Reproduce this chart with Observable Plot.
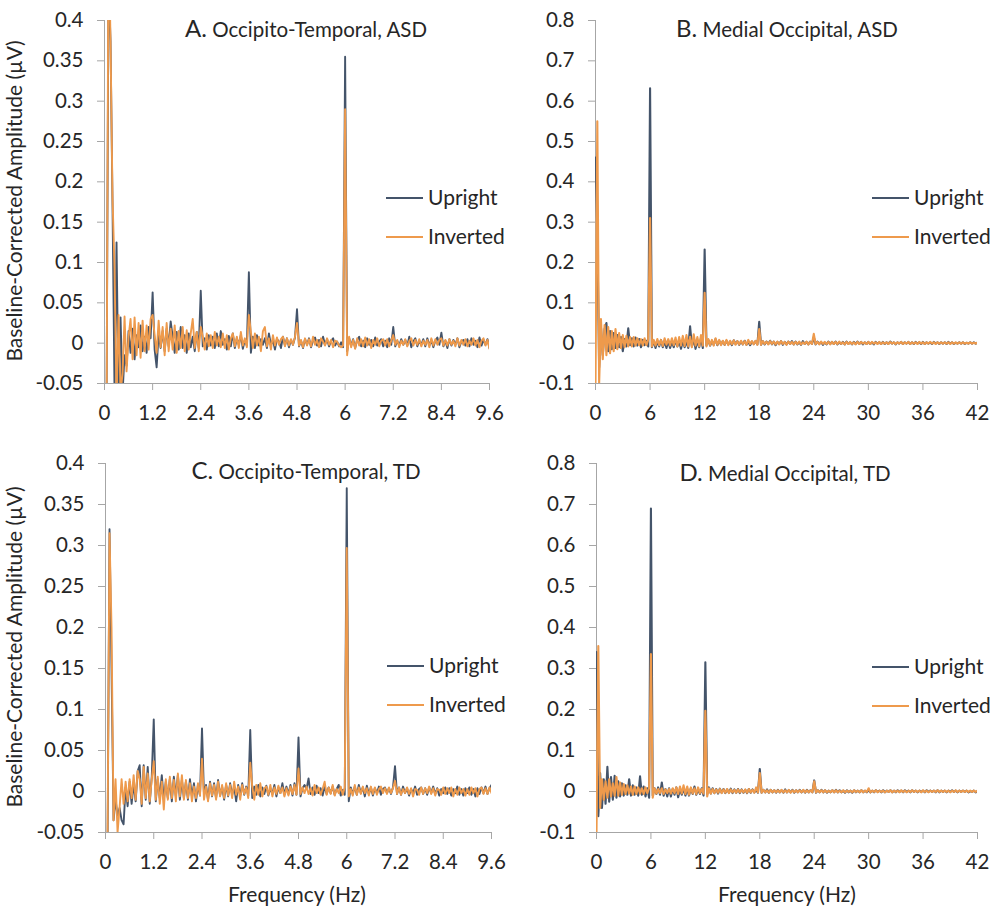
<!DOCTYPE html>
<html>
<head>
<meta charset="utf-8">
<script src="https://cdn.jsdelivr.net/npm/d3@7"></script>
<script src="https://cdn.jsdelivr.net/npm/@observablehq/plot@0.6"></script>
<style>
  body { margin: 0; background: #fff; }
  #wrap { position: relative; width: 992px; height: 907px; overflow: hidden; font-family: Lato, "Open Sans", sans-serif; }
  .pane { position: absolute; }
  #notes { position: absolute; left: 0; top: 0; }
</style>
</head>
<body>
<div id="wrap">
  <div class="pane" id="pA" style="left:0;top:0"></div>
  <div class="pane" id="pB" style="left:496px;top:0"></div>
  <div class="pane" id="pC" style="left:0;top:440px"></div>
  <div class="pane" id="pD" style="left:496px;top:440px"></div>
</div>
<script>
// ---- Data (amplitudes in nV, i.e. thousandths of a µV) ----
// Occipito-temporal panels: frequency bins every 0.05 Hz from 0 to 9.6 Hz
const stepOT = 0.05;
// Medial occipital panels: frequency bins every 0.2 Hz from 0 to 42 Hz
const stepMO = 0.2;

const aUpright_nV = [
-200,-90,450,375,170,-60,125,-70,32,-62,
-15,-28,15,-12,18,-20,10,-5,22,-10,
8,-12,20,6,63,-8,-30,12,-6,15,
-10,18,-4,27,8,-12,14,-8,20,-6,
10,-12,12,-5,8,-10,14,-6,65,-4,
6,-8,10,-3,8,-6,12,-4,15,-2,
5,-8,9,-4,12,-6,6,-2,10,-7,
4,-3,88,-12,8,-6,10,-3,5,-2,
6,-6,12,-2,4,-8,5,2,-6,8,
-3,6,-5,4,-2,7,42,-4,3,-6,
5,-2,6,-5,3,7,-3,4,-4,8,
-2,5,-4,3,6,-3,2,-4,1,-5,
355,-10,6,-3,5,-6,4,8,-4,3,
-5,6,-2,4,-4,7,-3,2,5,-4,
3,-5,6,-2,20,-4,3,-3,5,-2,
4,-3,8,-5,2,6,-4,3,-2,5,
-4,6,-3,4,-5,3,7,-2,13,-4,
3,-6,5,-3,4,-2,6,-5,2,4,
-3,5,-4,6,-2,3,-5,7,-3,4,
-2,5,-6];

const aInverted_nV = [
-200,-120,520,375,180,93,-70,35,-60,-38,
33,-35,8,30,-20,32,-15,25,-18,28,
-10,22,-8,30,35,10,-12,28,-5,20,
-15,25,-10,18,-8,22,-12,15,-6,20,
-10,16,-8,12,30,-6,14,-10,20,8,
-8,12,-4,10,-6,14,-3,8,-5,12,
-6,10,-8,6,12,-4,8,-6,14,-3,
6,-5,35,14,-6,12,-3,8,-10,15,
20,-4,6,-8,10,-3,7,-2,5,8,
-4,6,-3,5,-2,8,25,-3,4,-5,
6,-3,5,-4,8,-2,4,-5,6,2,
-3,6,-2,4,-5,3,2,-3,-5,-3,
290,-15,8,-5,4,-7,6,-3,5,-4,
7,-3,5,-6,4,-2,6,-4,3,5,
-3,5,-4,3,10,-2,4,-5,3,-2,
5,-4,3,6,-3,4,-2,5,-4,3,
-2,4,-5,6,-3,5,-2,4,6,-3,
4,-3,5,-2,3,-4,6,-3,4,-2,
5,-4,3,-2,6,-3,4,-5,3,6,
-3,4,-7];

const cUpright_nV = [
-200,-80,320,150,-35,-10,-30,-20,-35,-40,
5,-18,12,-15,10,-12,25,32,-18,32,
-10,30,-15,18,88,-12,15,-8,20,-10,
12,-8,15,-12,18,-6,20,-10,14,-8,
12,-10,15,-6,10,-12,8,-5,77,-4,
8,-10,12,-6,10,-8,14,-5,6,-10,
8,-6,10,-4,6,-12,8,-5,10,-4,
6,-5,75,-8,6,-4,8,-6,5,-3,
7,-5,4,-3,8,-6,5,-2,10,-4,
6,-3,8,-5,10,-4,66,-6,4,8,
3,16,-3,5,-4,7,-2,4,-5,6,
-3,5,-2,6,-4,3,8,-5,2,-4,
370,-12,5,-3,6,-4,8,-2,5,-6,
7,-3,5,-5,4,-2,6,-4,3,5,
-2,4,-3,5,31,-3,5,-4,6,-2,
4,-5,3,-2,6,-4,3,5,-3,4,
-4,5,-2,6,-3,4,-5,3,-2,5,
-3,4,-5,3,-2,6,-4,3,-5,4,
-2,5,-4,3,-6,4,-3,5,-2,6,
-3,4,8];

const cInverted_nV = [
-200,-60,315,200,-35,15,-50,-20,15,-15,
12,-12,15,-8,20,-10,25,15,-15,30,
-8,22,-12,15,37,-10,18,-15,12,-22,
15,-10,18,-8,14,-12,22,-6,20,-10,
14,-8,10,-12,6,-8,10,-5,40,-10,
6,-12,10,-5,8,-10,12,-6,8,-8,
10,-5,8,-8,12,-4,6,-10,8,-3,
5,-8,35,6,-10,8,-4,10,-6,4,
6,-4,8,-6,5,-3,7,-2,5,-6,
4,-5,6,-3,8,-4,28,-3,5,-2,
6,-3,4,-5,8,-2,5,-4,3,12,
-4,5,-3,8,-5,3,-2,6,-4,5,
297,-6,3,-5,8,-4,5,-3,6,-2,
4,-5,6,-3,5,-4,3,6,-2,4,
-3,5,-2,4,13,-3,5,-4,3,-2,
5,-3,4,-6,3,2,-4,5,-3,4,
-2,6,-3,4,-5,3,2,-4,5,-3,
4,-2,5,-6,3,-4,5,-2,3,-5,
3,-4,5,-2,4,-6,3,5,-3,4,
-3,5,-2];

const bUpright_nV = [
460,270,-60,40,-30,35,50,-20,30,-15,
25,-12,20,-10,15,-20,10,-8,37,-5,
12,-8,14,-6,10,-10,8,-5,6,-8,
632,-10,6,-12,5,-8,8,-10,4,-12,
6,-12,3,-10,8,-8,5,-14,6,-10,
4,-12,42,-8,10,-14,6,-10,12,-12,
232,-5,8,-6,5,-4,10,-5,6,-3,
5,-4,6,-3,4,-5,7,-2,5,-4,
4,-3,6,-4,3,-5,4,-2,5,-3,
53,-4,5,-3,4,-2,6,-3,4,-5,
3,-2,5,-4,3,-3,4,-2,5,-3,
4,-3,2,-4,5,-2,3,-3,4,-2,
15,-3,4,-2,3,-4,2,-3,4,-2,
3,-2,4,-3,2,-2,3,-3,4,-2,
2,-3,3,-2,4,-2,3,-3,2,-2,
3,-2,2,-3,3,-1,2,-2,3,-2,
2,-2,4,-1,2,-3,2,-1,3,-2,
2,-1,3,-2,2,-2,3,-1,2,-2,
3,-2,2,-1,2,-2,3,-1,2,-2,
2,-1,2,-2,3,-1,2,-2,1,-1,
2,-1,2,-2,1,-1,2,-1,2,-1,
1];

const bInverted_nV = [
-100,550,-100,60,-40,45,-30,40,-25,30,
-20,35,-15,25,-12,20,-10,18,-8,15,
-8,15,-6,12,-5,10,-6,12,-5,8,
310,-8,8,-6,10,-5,8,-7,12,-4,
10,-6,12,-5,14,-8,15,-6,18,-7,
20,-8,16,-10,22,-6,15,-8,20,-6,
125,-8,10,-5,8,-6,12,-4,8,-5,
6,-4,8,-5,6,-3,7,-4,5,-3,
6,-3,5,-4,8,-2,5,-3,6,-4,
35,-4,5,-2,4,-3,5,-2,4,-3,
4,-3,5,-2,3,-4,4,-2,3,-3,
3,-2,4,-3,2,-2,4,-3,3,-2,
23,-2,3,-3,4,-2,3,-2,3,-3,
3,-2,3,-2,4,-2,2,-3,3,-2,
3,-2,2,-3,3,-2,3,-1,2,-2,
3,-2,3,-1,2,-2,3,-2,2,-1,
2,-2,3,-1,2,-2,2,-1,3,-2,
2,-1,3,-2,2,-1,2,-2,3,-1,
2,-2,2,-1,3,-1,2,-2,2,-1,
2,-1,2,-1,2,-2,2,-1,2,-1,
2,-1,2,-1,1,-1,2,-1,1,-1,
1];

const dUpright_nV = [
340,-60,45,-40,30,-30,60,-25,35,-20,
38,-15,25,-12,20,-10,15,-8,30,-10,
15,-8,10,-10,37,-8,12,-12,8,-15,
690,-10,8,-6,10,-8,22,-10,6,-12,
8,-12,6,-8,10,-14,5,-8,8,-10,
6,-10,8,-6,12,-8,5,-6,8,-10,
315,-6,10,-5,8,-4,6,-5,7,-3,
6,-4,5,-3,7,-4,5,-3,6,-4,
5,-3,4,-4,6,-3,5,-2,4,-3,
55,-3,4,-2,5,-3,4,-2,3,-3,
4,-2,3,-3,5,-2,3,-2,4,-3,
3,-2,4,-2,3,-3,4,-2,3,-2,
27,-3,3,-2,4,-2,3,-3,2,-2,
3,-2,4,-2,3,-2,2,-3,3,-2,
2,-3,3,-2,2,-2,3,-2,2,-2,
4,-2,2,-2,3,-1,2,-2,3,-2,
2,-1,3,-2,2,-2,3,-1,2,-2,
3,-1,2,-2,3,-1,2,-2,2,-1,
2,-2,3,-1,2,-1,2,-2,3,-2,
2,-1,2,-2,2,-1,3,-1,2,-2,
2,-1,2,-1,2,-2,1,-1,2,-2,
1];

const dInverted_nV = [
-100,355,-40,30,-20,25,-15,30,-12,20,
-10,35,-10,22,-8,18,-6,15,-5,12,
-8,12,-6,10,-5,8,-6,10,-4,8,
335,-15,8,-5,6,-4,8,-6,5,-4,
6,-5,8,-4,10,-6,12,-5,15,-6,
12,-8,10,-5,8,-6,10,-4,6,-5,
197,-12,8,-5,6,-4,5,-3,6,-4,
5,-3,6,-4,5,-2,4,-3,5,-2,
4,-2,5,-3,6,-2,4,-3,10,-2,
45,-3,4,-2,3,-3,4,-2,3,-2,
3,-2,4,-2,3,-2,4,-3,3,-2,
3,-2,3,-2,4,-2,3,-2,3,-2,
25,-2,3,-2,3,-2,3,-2,2,-2,
3,-2,3,-2,2,-2,3,-2,2,-1,
2,-2,3,-1,2,-2,3,-2,2,-1,
8,-2,2,-1,3,-2,2,-1,2,-2,
2,-1,3,-2,2,-1,2,-2,3,-1,
2,-2,2,-1,3,-1,2,-1,2,-2,
3,-1,2,-2,2,-1,2,-1,3,-1,
2,-1,2,-1,2,-2,2,-1,3,-1,
2,-1,2,-1,2,-1,2,-1,2,-1,
2];

// Tick values
const xTicksOT = [0, 1.2, 2.4, 3.6, 4.8, 6, 7.2, 8.4, 9.6];
const yTicksOT = [-0.05, 0, 0.05, 0.1, 0.15, 0.2, 0.25, 0.3, 0.35, 0.4];
const xTicksMO = [0, 6, 12, 18, 24, 30, 36, 42];
const yTicksMO = [-0.1, 0, 0.1, 0.2, 0.3, 0.4, 0.5, 0.6, 0.7, 0.8];

const titles = [
  {id: "A.", text: "Occipito-Temporal, ASD"},
  {id: "B.", text: "Medial Occipital, ASD"},
  {id: "C.", text: "Occipito-Temporal, TD"},
  {id: "D.", text: "Medial Occipital, TD"}
];
const seriesNames = ["Upright", "Inverted"];
const yAxisTitle = "Baseline-Corrected Amplitude (µV)";
const xAxisTitle = "Frequency (Hz)";

// ---- Styling ----
const NAVY = "#44546A";
const ORANGE = "#EE9A4C";
const AXIS = "#A6A6A6";
const INK = "#262626";
const FONT = "Lato, 'Open Sans', sans-serif";

function toRows(values, step) {
  return values.map((v, i) => ({f: +(i * step).toFixed(3), amp: v / 1000}));
}
const fmt = d => String(+d.toFixed(2));

function panel(opts) {
  const {up, inv, step, xTicks, yTicks, width, height, mL, mR, mT, mB, sw} = opts;
  const xDomain = [xTicks[0], xTicks[xTicks.length - 1]];
  const yDomain = [yTicks[0], yTicks[yTicks.length - 1]];
  return Plot.plot({
    width, height,
    marginLeft: mL, marginRight: mR, marginTop: mT, marginBottom: mB,
    style: {fontFamily: FONT, fontSize: "20.5px", color: INK, overflow: "visible", background: "transparent"},
    x: {domain: xDomain, axis: null},
    y: {domain: yDomain, axis: null},
    marks: [
      Plot.axisY(yTicks, {tickSize: 7, tickPadding: 14, stroke: AXIS, fill: INK, tickFormat: fmt, label: null}),
      Plot.axisX(xTicks, {tickSize: 7, tickPadding: 15, stroke: AXIS, fill: INK, tickFormat: fmt, label: null}),
      Plot.ruleX([xDomain[0]], {stroke: AXIS}),
      Plot.ruleY([yDomain[0]], {stroke: AXIS}),
      Plot.line(toRows(up, step), {x: "f", y: "amp", stroke: NAVY, strokeWidth: sw, clip: true}),
      Plot.line(toRows(inv, step), {x: "f", y: "amp", stroke: ORANGE, strokeWidth: sw, clip: true})
    ]
  });
}

document.getElementById("pA").append(panel({up: aUpright_nV, inv: aInverted_nV, step: stepOT, xTicks: xTicksOT, yTicks: yTicksOT,
  width: 496, height: 420, mL: 104, mR: 7, mT: 20, mB: 37, sw: 1.9}));
document.getElementById("pB").append(panel({up: bUpright_nV, inv: bInverted_nV, step: stepMO, xTicks: xTicksMO, yTicks: yTicksMO,
  width: 496, height: 420, mL: 99, mR: 15, mT: 20, mB: 37, sw: 2.1}));
document.getElementById("pC").append(panel({up: cUpright_nV, inv: cInverted_nV, step: stepOT, xTicks: xTicksOT, yTicks: yTicksOT,
  width: 496, height: 420, mL: 105, mR: 5, mT: 23, mB: 28, sw: 1.9}));
document.getElementById("pD").append(panel({up: dUpright_nV, inv: dInverted_nV, step: stepMO, xTicks: xTicksMO, yTicks: yTicksMO,
  width: 496, height: 420, mL: 100, mR: 15, mT: 23, mB: 28, sw: 2.1}));

// ---- Annotations: titles, axis titles, legends ----
const NS = "http://www.w3.org/2000/svg";
const notes = document.createElementNS(NS, "svg");
notes.setAttribute("id", "notes");
notes.setAttribute("width", 992);
notes.setAttribute("height", 907);
notes.style.fontFamily = FONT;
notes.style.pointerEvents = "none";
document.getElementById("wrap").append(notes);

function el(tag, attrs, parent) {
  const e = document.createElementNS(NS, tag);
  for (const k in attrs) e.setAttribute(k, attrs[k]);
  (parent || notes).append(e);
  return e;
}
function txt(x, y, str, size, attrs = {}) {
  const t = el("text", Object.assign({x, y, "font-size": size, fill: INK}, attrs));
  t.textContent = str;
  return t;
}

const titlePos = [[306, 37], [787, 37], [306, 479], [785, 481]];
titles.forEach((t, i) => {
  const [x, y] = titlePos[i];
  const e = el("text", {x, y, "text-anchor": "middle", fill: INK});
  const a = el("tspan", {"font-size": 24}, e); a.textContent = t.id;
  const b = el("tspan", {"font-size": 20.5}, e); b.textContent = " " + t.text;
});

[[201], [647]].forEach(([cy]) => {
  txt(0, 0, yAxisTitle, 21, {"text-anchor": "middle", transform: `translate(22,${cy}) rotate(-90)`});
});
[[297], [787]].forEach(([cx]) => {
  txt(cx, 902, xAxisTitle, 21, {"text-anchor": "middle"});
});

const legendPos = [[386, 198, 237], [872, 198, 237], [387, 666, 705], [872, 667, 706]];
legendPos.forEach(([x, y1, y2]) => {
  [[y1, NAVY, seriesNames[0]], [y2, ORANGE, seriesNames[1]]].forEach(([y, c, name]) => {
    el("line", {x1: x, x2: x + 37, y1: y, y2: y, stroke: c, "stroke-width": 2});
    txt(x + 42, y + 7, name, 21);
  });
});
</script>
</body>
</html>
